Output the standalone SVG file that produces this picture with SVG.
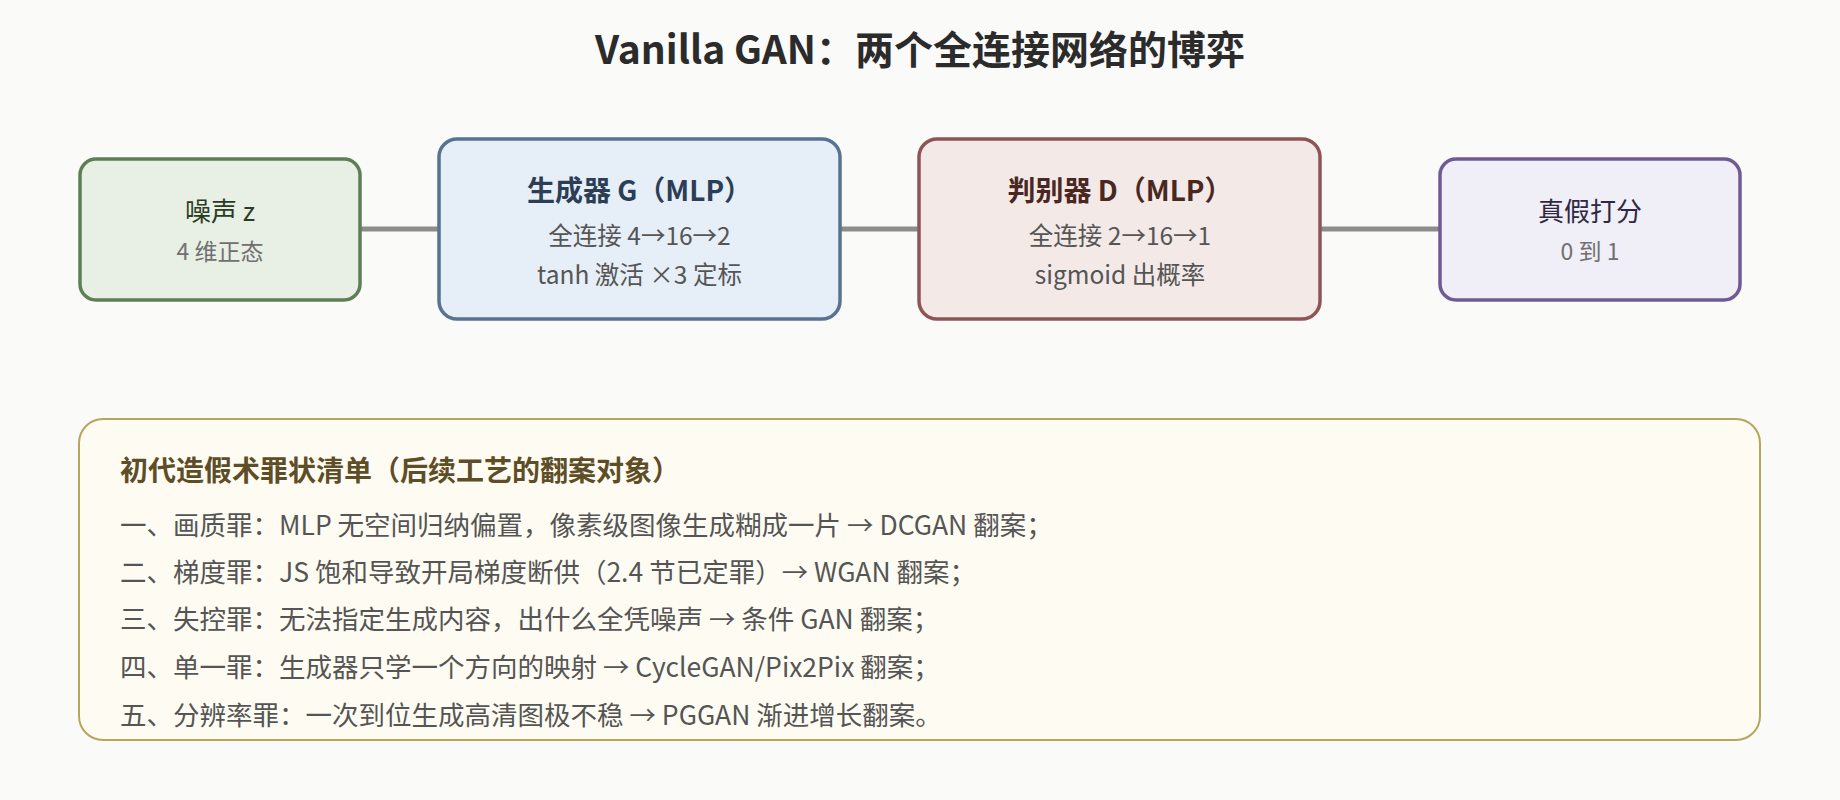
<svg xmlns="http://www.w3.org/2000/svg" width="1840" height="800" viewBox="0 0 1840 800">
<style>
text{font-family:"Noto Sans CJK SC","Noto Sans",sans-serif;}
.title{font-size:39px;font-weight:700;fill:#2b2b2b;text-anchor:middle;}
.nt{font-size:26px;text-anchor:middle;}
.nb{font-size:28px;font-weight:700;text-anchor:middle;}
.ns{font-size:24.5px;fill:#555;text-anchor:middle;}
.sub{font-size:23px;fill:#707070;text-anchor:middle;}
.conn{stroke:#8c8c8c;stroke-width:5;fill:none;}
.ph{font-size:28px;font-weight:700;fill:#5e4e28;}
.pl{font-size:26.5px;fill:#555;}
</style>
<rect width="1840" height="800" fill="#fafaf8"/>
<text class="title" x="920" y="64">Vanilla GAN：两个全连接网络的博弈</text>
<g id="connectors">
<line class="conn" x1="360" y1="229" x2="439" y2="229"/>
<line class="conn" x1="840" y1="229" x2="919" y2="229"/>
<line class="conn" x1="1320" y1="229" x2="1440" y2="229"/>
</g>
<g id="noise">
<rect x="80" y="159" width="280" height="141" rx="16" fill="#e8efe4" stroke="#5e7f55" stroke-width="3.5"/>
<text class="nt" x="220" y="221" fill="#2a3d24">噪声 z</text>
<text class="sub" x="220" y="260">4 维正态</text>
</g>
<g id="generator">
<rect x="439" y="139" width="401" height="180" rx="18" fill="#e6eef7" stroke="#577391" stroke-width="3.5"/>
<text class="nb" x="639.5" y="201" fill="#2c3e55">生成器 G（MLP）</text>
<text class="ns" x="639.5" y="245">全连接 4→16→2</text>
<text class="ns" x="639.5" y="284">tanh 激活 ×3 定标</text>
</g>
<g id="discriminator">
<rect x="919" y="139" width="401" height="180" rx="18" fill="#f3e9e6" stroke="#8e5555" stroke-width="3.5"/>
<text class="nb" x="1120" y="201" fill="#4a2822">判别器 D（MLP）</text>
<text class="ns" x="1120" y="245">全连接 2→16→1</text>
<text class="ns" x="1120" y="284">sigmoid 出概率</text>
</g>
<g id="score">
<rect x="1440" y="159" width="300" height="141" rx="16" fill="#f0eef6" stroke="#6f5b94" stroke-width="3.5"/>
<text class="nt" x="1590" y="221" fill="#2e2842">真假打分</text>
<text class="sub" x="1590" y="260">0 到 1</text>
</g>
<g id="panel">
<rect x="79" y="419" width="1681" height="321" rx="24" fill="#fefcf2" stroke="#b5a55d" stroke-width="2"/>
<text class="ph" x="120" y="481">初代造假术罪状清单（后续工艺的翻案对象）</text>
<text class="pl" x="120" y="535">一、画质罪：MLP 无空间归纳偏置，像素级图像生成糊成一片 → DCGAN 翻案；</text>
<text class="pl" x="120" y="582">二、梯度罪：JS 饱和导致开局梯度断供（2.4 节已定罪）→ WGAN 翻案；</text>
<text class="pl" x="120" y="629">三、失控罪：无法指定生成内容，出什么全凭噪声 → 条件 GAN 翻案；</text>
<text class="pl" x="120" y="677">四、单一罪：生成器只学一个方向的映射 → CycleGAN/Pix2Pix 翻案；</text>
<text class="pl" x="120" y="725">五、分辨率罪：一次到位生成高清图极不稳 → PGGAN 渐进增长翻案。</text>
</g>
</svg>
